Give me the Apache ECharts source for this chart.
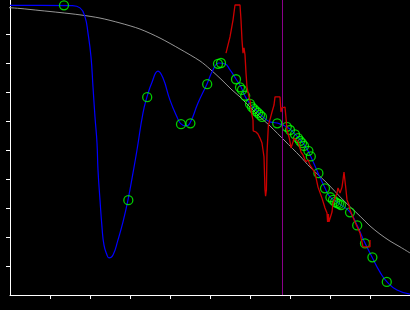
<!DOCTYPE html>
<html>
<head>
<meta charset="utf-8">
<script src="https://cdn.jsdelivr.net/npm/echarts@6/dist/echarts.min.js"></script>
<style>html,body{margin:0;padding:0;background:#000;}#c{width:410px;height:310px;}</style>
</head>
<body>
<div id="c"></div>
<script>
// Gray reference curve
var grayX = [-0.25,0.25,0.75,1.25,1.75,2.25,2.75,3.25,3.75,4.25,4.75,5.0,5.3,5.55,5.75,6.0,6.25,6.5,6.875,7.25,7.5,7.925,8.325,8.75,9.0,9.25,9.5,9.75,10.0];
var grayY = [9.93,9.88,9.81,9.74,9.66,9.55,9.38,9.17,8.86,8.48,8.07,7.79,7.41,7.07,6.83,6.48,6.14,5.83,5.31,4.79,4.41,3.86,3.28,2.72,2.38,2.10,1.86,1.66,1.45];
// Blue fitted curve
var blueX = [0,0.75,1.55,1.75,1.875,1.95,2.025,2.075,2.125,2.175,2.2,2.25,2.3,2.35,2.425,2.475,2.575,2.7,2.825,2.95,3.075,3.175,3.325,3.425,3.55,3.7,3.825,4.0,4.175,4.275,4.4,4.5,4.7,4.925,5.075,5.225,5.375,5.5,5.65,5.775,5.875,6.0,6.175,6.325,6.5,6.675,6.925,7.125,7.325,7.45,7.525,7.7,7.875,8.0,8.175,8.275,8.5,8.675,8.875,9.05,9.25,9.425,9.675,10.0];
var blueY = [9.99,9.99,9.98,9.90,9.59,9.03,8.21,7.17,6.14,5.24,4.31,3.28,2.34,1.72,1.38,1.28,1.38,1.90,2.52,3.28,4.21,5.0,6.28,6.83,7.34,7.72,7.48,6.72,6.14,5.90,5.83,5.93,6.62,7.28,7.76,8.0,7.97,7.76,7.45,7.17,6.86,6.59,6.34,6.14,5.97,5.93,5.79,5.55,5.24,4.97,4.76,4.21,3.69,3.38,3.21,3.10,2.86,2.41,1.79,1.31,0.79,0.45,0.17,0.03];
// Red noisy line
var redX = [5.4,5.45,5.5,5.575,5.625,5.75,5.775,5.8,5.825,5.85,5.875,5.9,5.925,5.975,6.0,6.025,6.075,6.08,6.15,6.2,6.25,6.3,6.325,6.35,6.36,6.375,6.39,6.4,6.41,6.425,6.45,6.46,6.5,6.51,6.55,6.6,6.625,6.75,6.775,6.8,6.825,6.875,6.9,6.925,6.975,7.0,7.025,7.075,7.1,7.15,7.2,7.25,7.275,7.325,7.375,7.4,7.45,7.5,7.625,7.7,7.8,7.875,7.925,7.94,7.96,7.975,8.025,8.05,8.075,8.125,8.175,8.2,8.25,8.3,8.325,8.35,8.375,8.4,8.425,8.475,8.5,8.625,8.75,8.825,9.0,9.0];
var redY = [8.34,8.34,8.90,9.48,10.0,10.0,9.48,8.79,8.34,8.52,8.28,7.66,7.17,6.83,6.72,6.38,6.03,5.66,5.62,5.55,5.41,5.24,5.0,4.76,4.31,3.62,3.41,3.41,3.62,4.90,5.59,5.86,5.86,6.10,6.31,6.55,6.83,6.83,6.31,6.45,6.48,6.48,6.10,5.69,5.45,5.28,5.07,5.28,5.41,5.45,5.28,5.07,4.93,4.83,4.66,4.59,4.66,4.48,4.21,3.72,3.34,3.0,2.83,2.52,2.79,2.52,2.52,2.86,3.17,3.21,3.52,3.69,3.52,3.72,3.97,4.24,4.24,3.62,3.28,3.10,2.93,2.52,2.14,1.66,1.66,1.90];
// Green measurement markers
var markX = [1.35,2.958,3.43,4.275,4.51,4.93,5.2,5.275,5.65,5.75,5.8,5.88,6.0,6.05,6.1,6.15,6.2,6.25,6.3,6.68,6.92,7.0,7.125,7.2,7.25,7.3,7.35,7.46,7.52,7.71,7.875,8.01,8.075,8.125,8.175,8.225,8.275,8.5,8.68,8.875,9.06,9.42];
var markY = [9.99,3.27,6.82,5.89,5.92,7.27,7.97,8.0,7.44,7.16,7.07,6.87,6.59,6.48,6.41,6.34,6.28,6.21,6.14,5.92,5.80,5.69,5.54,5.41,5.31,5.24,5.14,4.97,4.78,4.20,3.68,3.37,3.28,3.21,3.17,3.14,3.10,2.85,2.40,1.78,1.30,0.45];
// Vertical cut line
var cutX = 6.81;
var tickVals = [1,2,3,4,5,6,7,8,9];

function zip(a, b) { return a.map(function (v, i) { return [v, b[i]]; }); }

var chart = echarts.init(document.getElementById('c'), null, {renderer: 'canvas'});
var axisCommon = {
  type: 'value',
  axisLine: {show: true, onZero: false, lineStyle: {color: '#ffffff', width: 1}},
  axisTick: {show: true, inside: false, length: 4, lineStyle: {color: '#ffffff', width: 1}, customValues: tickVals},
  axisLabel: {show: false},
  splitLine: {show: false}
};
chart.setOption({
  backgroundColor: '#000000',
  animation: false,
  grid: {left: 10, right: 0, top: 0, bottom: 15, containLabel: false},
  xAxis: Object.assign({}, axisCommon, {min: 0, max: 10}),
  yAxis: Object.assign({}, axisCommon, {min: 0, max: 295 / 29}),
  series: [
    {type: 'line', data: zip(grayX, grayY), smooth: 0.3, clip: false, showSymbol: false,
     lineStyle: {color: '#969696', width: 1}, z: 2},
    {type: 'line', data: zip(blueX, blueY), smooth: 0.5, clip: false, showSymbol: false,
     lineStyle: {color: '#0000ff', width: 1.2}, z: 3},
    {type: 'scatter', data: zip(markX, markY), symbol: 'circle', symbolSize: 9, clip: false,
     itemStyle: {color: 'rgba(0,0,0,0)', borderColor: '#00ff00', borderWidth: 1.3}, z: 4},
    {type: 'line', data: zip(redX, redY), clip: false, showSymbol: false,
     lineStyle: {color: '#cc0000', width: 1.3}, z: 5},
    {type: 'line', data: [], z: 6,
     markLine: {silent: true, symbol: 'none', label: {show: false},
       lineStyle: {color: '#8b008b', width: 1, type: 'solid'},
       data: [{xAxis: cutX}]}}
  ]
});
</script>
</body>
</html>
